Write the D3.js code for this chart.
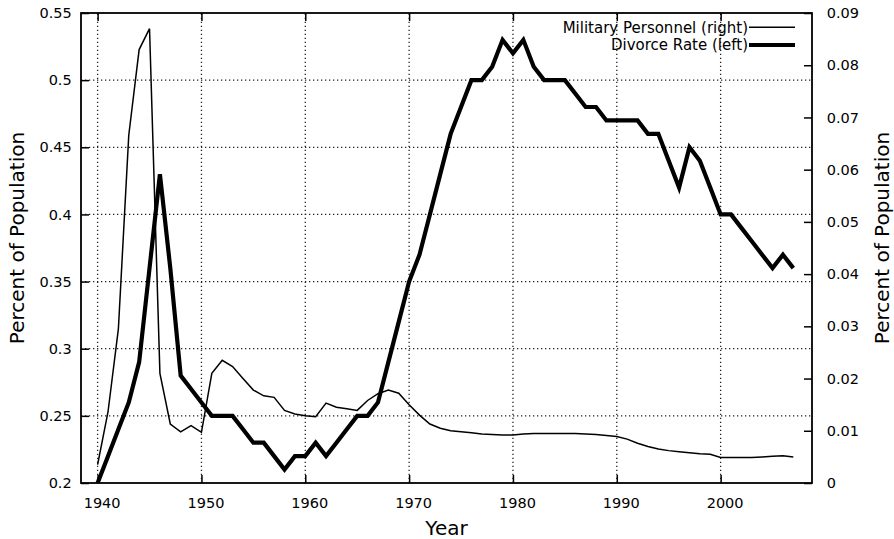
<!DOCTYPE html>
<html>
<head>
<meta charset="utf-8">
<script src="https://cdn.jsdelivr.net/npm/d3@7"></script>
<style>
  html, body { margin: 0; padding: 0; background: #fff; }
  svg { display: block; }
  text { font-family: "DejaVu Sans", Verdana, sans-serif; fill: #000; }
</style>
</head>
<body>
<svg id="chart" width="894" height="539"></svg>
<script>
// ---- Data ----
const years = d3.range(1940, 2008);
const divorceRate = [
  0.20, 0.22, 0.24, 0.26, 0.29, 0.36, 0.43, 0.36, 0.28, 0.27,
  0.26, 0.25, 0.25, 0.25, 0.24, 0.23, 0.23, 0.22, 0.21, 0.22,
  0.22, 0.23, 0.22, 0.23, 0.24, 0.25, 0.25, 0.26, 0.29, 0.32,
  0.35, 0.37, 0.40, 0.43, 0.46, 0.48, 0.50, 0.50, 0.51, 0.53,
  0.52, 0.53, 0.51, 0.50, 0.50, 0.50, 0.49, 0.48, 0.48, 0.47,
  0.47, 0.47, 0.47, 0.46, 0.46, 0.44, 0.42, 0.45, 0.44, 0.42,
  0.40, 0.40, 0.39, 0.38, 0.37, 0.36, 0.37, 0.36
];
const militaryPersonnel = [
  0.0035, 0.0136, 0.0295, 0.0666, 0.0830, 0.0870, 0.0210, 0.0113, 0.0098, 0.0110,
  0.0097, 0.0210, 0.0235, 0.0223, 0.0200, 0.0178, 0.0167, 0.0164, 0.0139, 0.0132,
  0.0129, 0.0127, 0.0153, 0.0145, 0.0142, 0.0139, 0.0158, 0.0171, 0.0178, 0.0172,
  0.0150, 0.0130, 0.0113, 0.0105, 0.0100, 0.0098, 0.0096, 0.0094, 0.0093, 0.0092,
  0.0092, 0.0094, 0.0095, 0.0095, 0.0095, 0.0095, 0.0095, 0.0094, 0.0093, 0.0091,
  0.0089, 0.0084, 0.0076, 0.0070, 0.0065, 0.0062, 0.0060, 0.0058, 0.0056, 0.0055,
  0.0049, 0.0049, 0.0049, 0.0049, 0.0050, 0.0051, 0.0052, 0.0050
];
const xTicks = [1940, 1950, 1960, 1970, 1980, 1990, 2000];
const leftTicks = [0.2, 0.25, 0.3, 0.35, 0.4, 0.45, 0.5, 0.55];
const rightTicks = [0, 0.01, 0.02, 0.03, 0.04, 0.05, 0.06, 0.07, 0.08, 0.09];
const seriesNames = ["Military Personnel (right)", "Divorce Rate (left)"];

// ---- Layout ----
const L = 81, R = 812, T = 13, B = 483;
const svg = d3.select("#chart");

const x = d3.scaleLinear().domain([1938.4, 2008.8]).range([L, R]);
const yL = d3.scaleLinear().domain([0.2, 0.55]).range([B, T]);
const yR = d3.scaleLinear().domain([0, 0.09]).range([B, T]);

const fmt = d => String(+d.toFixed(2));

// Grid
const grid = svg.append("g").attr("stroke", "#222").attr("stroke-width", 1.3)
  .attr("stroke-dasharray", "1.3,2.7");
grid.selectAll("line.v").data(xTicks).join("line")
  .attr("x1", d => x(d)).attr("x2", d => x(d)).attr("y1", B).attr("y2", T);
grid.selectAll("line.h").data(leftTicks.slice(1, -1)).join("line")
  .attr("x1", L).attr("x2", R).attr("y1", d => yL(d)).attr("y2", d => yL(d));

// Axes
function styleAxis(g) {
  g.select(".domain").remove();
  g.selectAll(".tick line").attr("stroke", "#000").attr("stroke-width", 1.5);
  g.selectAll(".tick text").style("font-family", "DejaVu Sans, Verdana, sans-serif");
}
svg.append("g").attr("transform", `translate(0,${B})`)
  .call(d3.axisBottom(x).tickValues(xTicks).tickFormat(d3.format("d"))
    .tickSizeInner(-8).tickSizeOuter(0).tickPadding(14.4))
  .call(styleAxis)
  .call(g => g.selectAll(".tick text").attr("font-size", 14.5).attr("dx", 4));
svg.append("g").attr("transform", `translate(0,${T})`)
  .call(d3.axisTop(x).tickValues(xTicks).tickFormat("")
    .tickSizeInner(-8).tickSizeOuter(0))
  .call(styleAxis);
svg.append("g").attr("transform", `translate(${L},0)`)
  .call(d3.axisLeft(yL).tickValues(leftTicks).tickFormat(fmt)
    .tickSizeInner(-8).tickSizeOuter(0).tickPadding(9.3))
  .call(styleAxis)
  .call(g => g.selectAll(".tick text").attr("font-size", 14.5));
svg.append("g").attr("transform", `translate(${R},0)`)
  .call(d3.axisRight(yR).tickValues(rightTicks).tickFormat(fmt)
    .tickSizeInner(-8).tickSizeOuter(0).tickPadding(14.7))
  .call(styleAxis)
  .call(g => g.selectAll(".tick text").attr("font-size", 14.5));

// Frame
svg.append("rect").attr("x", L).attr("y", T).attr("width", R - L).attr("height", B - T)
  .attr("fill", "none").attr("stroke", "#000").attr("stroke-width", 1.8);

// Lines
const lineMil = d3.line().x((d, i) => x(years[i])).y(d => yR(d));
const lineDiv = d3.line().x((d, i) => x(years[i])).y(d => yL(d));
svg.append("path").datum(militaryPersonnel).attr("d", lineMil)
  .attr("fill", "none").attr("stroke", "#000").attr("stroke-width", 1.5)
  .attr("stroke-linejoin", "miter");
svg.append("path").datum(divorceRate).attr("d", lineDiv)
  .attr("fill", "none").attr("stroke", "#000").attr("stroke-width", 4.2)
  .attr("stroke-linejoin", "miter");

// Legend
const legend = svg.append("g");
const legY = [27.3, 45];
const legW = [1.5, 4.2];
seriesNames.forEach((name, i) => {
  legend.append("text").attr("x", 748).attr("y", legY[i]).attr("dy", "0.35em")
    .attr("text-anchor", "end").attr("font-size", 15).text(name);
  legend.append("line").attr("x1", 749).attr("x2", 795)
    .attr("y1", legY[i]).attr("y2", legY[i])
    .attr("stroke", "#000").attr("stroke-width", legW[i]);
});

// Axis titles
svg.append("text").attr("transform", "translate(23.5,238) rotate(-90)")
  .attr("text-anchor", "middle").attr("font-size", 20).text("Percent of Population");
svg.append("text").attr("transform", "translate(889,238) rotate(-90)")
  .attr("text-anchor", "middle").attr("font-size", 20).text("Percent of Population");
svg.append("text").attr("x", 446.5).attr("y", 535)
  .attr("text-anchor", "middle").attr("font-size", 20).text("Year");
</script>
</body>
</html>
